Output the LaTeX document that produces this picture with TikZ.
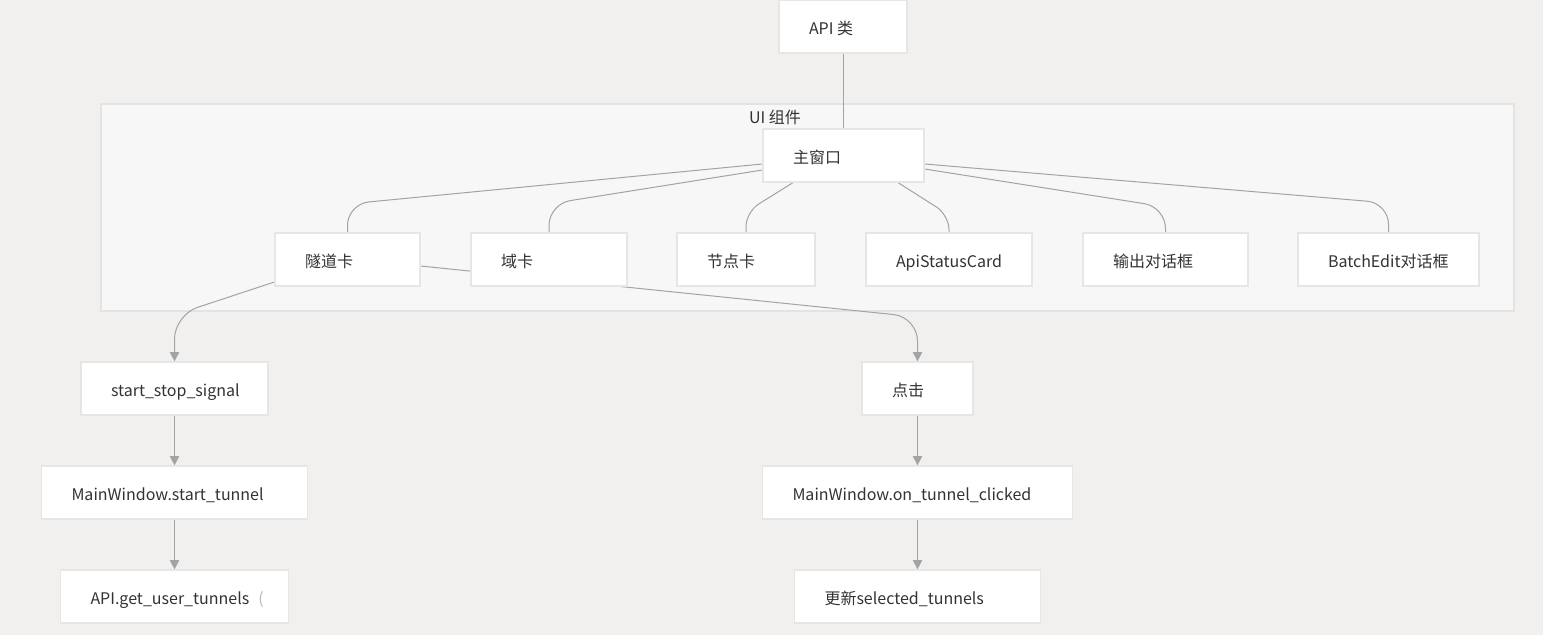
\documentclass[tikz,border=0pt]{standalone}
\usepackage{fontspec}
\setmainfont{Noto Sans CJK SC}
\usetikzlibrary{arrows.meta,calc}
\newdimen\pxu \pxu=0.75pt
\newcommand{\bt}[2]{\makebox[#1\pxu][l]{#2}}
\definecolor{bgc}{HTML}{F1F0EE}
\definecolor{clfill}{HTML}{F7F7F7}
\definecolor{clline}{HTML}{E3E3E3}
\definecolor{boxb}{HTML}{E6E6E6}
\definecolor{linec}{HTML}{A3A3A3}
\definecolor{txt}{HTML}{333333}
\pgfdeclarelayer{bgl}
\pgfdeclarelayer{edgel}
\pgfsetlayers{bgl,edgel,main}
\tikzset{
  box/.style={draw=boxb, fill=white, line width=0.9pt, minimum height=39.75pt,
    inner xsep=22.5pt, inner ysep=0pt, text=txt, text height=12pt, text depth=0pt},
  conn/.style={draw=linec, line width=0.75pt},
  arr/.style={conn, -{Triangle[length=7pt,width=7pt]}},
  curv/.style={conn, rounded corners=16pt},
  curvs/.style={conn, rounded corners=11pt},
}
\begin{document}
\begin{tikzpicture}[x=0.75pt, y=-0.75pt, font=\fontsize{12pt}{14pt}\selectfont]
\useasboundingbox (0,0) rectangle (1543,635);
\begin{pgfonlayer}{bgl}
  \fill[bgc] (0,0) rectangle (1543,635);
  \draw[fill=clfill, draw=clline, line width=1.1pt] (101,104) rectangle (1514,311);
\end{pgfonlayer}
\node[text=txt] (uilabel) at (775,117) {UI 组件};

\node[box] (api) at (843,26.5) {\bt{68}{API 类}};
\node[box] (main) at (843.5,155.5) {\bt{101}{主窗口}};
\node[box] (tunnel) at (347.5,259.5) {\bt{85}{隧道卡}};
\node[box] (domain) at (549,259.5) {\bt{96}{域卡}};
\node[box] (nodec) at (746,259.5) {\bt{78}{节点卡}};
\node[box] (apistat) at (949,259.5) {\bt{106}{ApiStatusCard}};
\node[box] (output) at (1165.5,259.5) {\bt{105}{输出对话框}};
\node[box] (batch) at (1388.5,259.5) {\bt{121}{BatchEdit对话框}};
\node[box] (sss) at (174.5,388.5) {\bt{127}{start\_stop\_signal}};
\node[box] (click) at (917.5,388.5) {\bt{51}{点击}};
\node[box] (mwst) at (174.5,492.5) {\bt{206}{MainWindow.start\_tunnel}};
\node[box] (mwotc) at (917.5,492.5) {\bt{250}{MainWindow.on\_tunnel\_clicked}};
\node[box] (apigut) at (174.5,596.5) {\bt{168}{API.get\_user\_tunnels\hspace{9\pxu}\textcolor{txt!35}{(}}};
\node[box] (upd) at (917.5,596.5) {\bt{186}{更新selected\_tunnels}};

\begin{pgfonlayer}{edgel}
  \draw[conn] (api.south) -- (api.south |- main.north);
  \draw[curv] ($(main.west)+(0,8.5)$) -- (tunnel.north |- 0,204) -- (tunnel.north);
  \draw[curv] ($(main.west)+(0,14.5)$) -- (domain.north |- 0,204) -- (domain.north);
  \draw[curvs] ($(main.south)+(-50.5,0)$) -- (nodec.north |- 0,212) -- (nodec.north);
  \draw[curvs] ($(main.south)+(54.5,0)$) -- (apistat.north |- 0,215) -- (apistat.north);
  \draw[curv] ($(main.east)+(0,13.5)$) -- (output.north |- 0,207) -- (output.north);
  \draw[curv] ($(main.east)+(0,8.5)$) -- (batch.north |- 0,203) -- (batch.north);
  \draw[arr, rounded corners=18pt] ($(tunnel.west)+(0,22.5)$) -- (sss.north |- 0,315) -- (sss.north);
  \draw[arr, rounded corners=18pt] ($(tunnel.east)+(0,6.5)$) -- (click.north |- 0,317) -- (click.north);
  \draw[arr] (sss.south) -- (mwst.north);
  \draw[arr] (mwst.south) -- (apigut.north);
  \draw[arr] (click.south) -- (mwotc.north);
  \draw[arr] (mwotc.south) -- (upd.north);
\end{pgfonlayer}
\end{tikzpicture}
\end{document}
